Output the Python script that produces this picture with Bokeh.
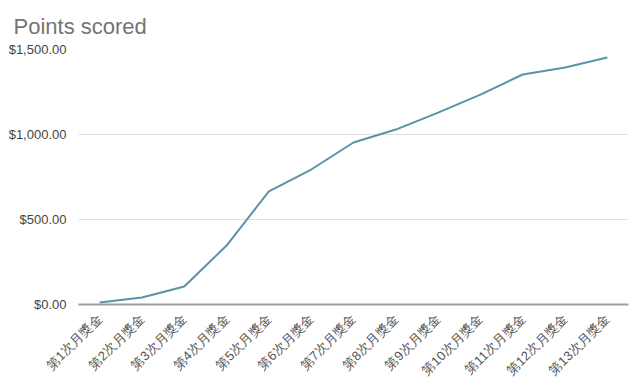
from bokeh.plotting import figure
from bokeh.models import FactorRange, Range1d, NumeralTickFormatter, FixedTicker
from bokeh.embed import file_html
from bokeh.resources import INLINE
import math

title_text = "Points scored"
categories = [f"第{i}次月獎金" for i in range(1, 14)]
points = [12, 41, 106, 347, 665, 794, 953, 1029, 1129, 1235, 1353, 1394, 1453]
y_ticks = [0, 500, 1000, 1500]

p = figure(frame_width=550, frame_height=255,
           x_range=FactorRange(*categories, range_padding=0),
           y_range=Range1d(0, 1500), output_backend="svg", toolbar_location=None,
           min_border_left=78, min_border_right=10, min_border_bottom=78, min_border_top=49)
p.title.text = title_text
p.title.text_font = "Liberation Sans"
p.title.text_font_size = "22px"
p.title.text_font_style = "normal"
p.title.text_color = "#757575"
p.title.offset = -65
p.title.standoff = 22

p.line(categories, points, line_color="#5a93a8", line_width=2)

p.outline_line_color = None
p.xgrid.grid_line_color = None
p.ygrid.grid_line_color = "#e0e0e0"
p.ygrid.grid_line_width = 1

p.yaxis.ticker = FixedTicker(ticks=y_ticks)
p.yaxis.formatter = NumeralTickFormatter(format="$0,0.00")
p.yaxis.axis_line_color = None
p.yaxis.major_tick_line_color = None
p.yaxis.minor_tick_line_color = None
p.yaxis.major_label_text_font = "Liberation Sans"
p.yaxis.major_label_text_font_size = "13px"
p.yaxis.major_label_text_color = "#444444"
p.yaxis.major_label_standoff = 6

p.xaxis.axis_line_color = "#9e9e9e"
p.xaxis.axis_line_width = 2
p.xaxis.major_tick_line_color = None
p.xaxis.major_label_orientation = math.pi / 4
p.xaxis.major_label_text_font = "Liberation Sans"
p.xaxis.major_label_text_font_size = "13px"
p.xaxis.major_label_text_color = "#555555"
p.xaxis.major_label_standoff = 6

open("out.html", "w").write(file_html(p, INLINE))
